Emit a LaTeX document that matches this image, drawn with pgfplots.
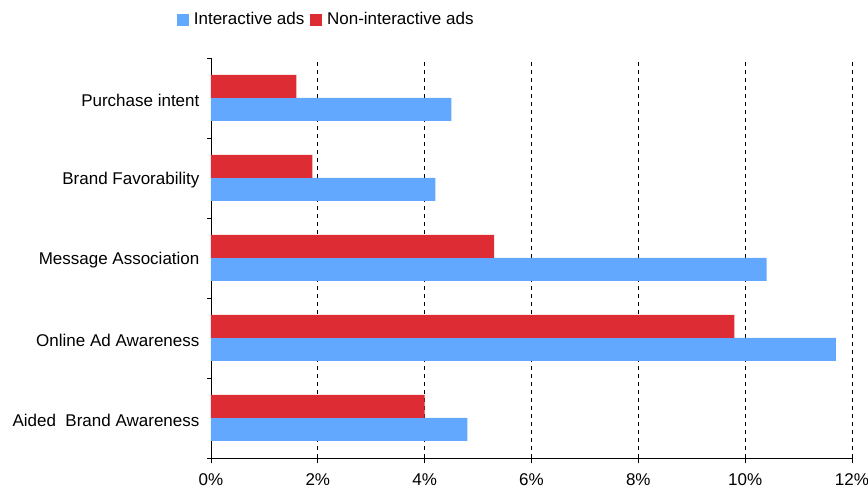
\documentclass[border=0pt]{standalone}
\usepackage{fontspec}
\setmainfont{Liberation Sans}
\usepackage{pgfplots}
\pgfplotsset{compat=1.18}
\definecolor{iblue}{HTML}{62A8FF}
\definecolor{nred}{HTML}{DE2C34}
\begin{document}
\fontsize{12.75}{15}\selectfont
\begin{tikzpicture}
\begin{axis}[
  name=ax,
  scale only axis,
  width=480.75pt, height=300pt,
  xmin=0, xmax=12,
  ymin=-0.5, ymax=4.5,
  axis lines*=left,
  axis line style={black, line width=0.6pt},
  xtick={0,2,...,12},
  xticklabels={0\%,2\%,4\%,6\%,8\%,10\%,12\%},
  ytick={0,1,2,3,4},
  yticklabels={Aided\ \ Brand Awareness,Online Ad Awareness,Message Association,Brand Favorability,Purchase intent},
  minor ytick={-0.5,0.5,...,4.5},
  xmajorgrids,
  major x grid style={black, dashed, line width=0.6pt, dash pattern=on 3pt off 3pt},
  major tick length=4pt,
  minor tick length=3pt,
  tick style={black, line width=0.6pt},
  xtick style={black, line width=0.6pt},
  tick align=outside,
  ytick style={draw=none},
  minor y tick style={draw=black, line width=0.6pt},
  yticklabel style={font=\fontsize{12.75}{15}\selectfont, inner sep=0pt, xshift=-4.5pt, yshift=-1.5pt},
  xticklabel style={font=\fontsize{12.75}{15}\selectfont, yshift=-3pt},
  xbar, bar width=17.25pt,
  legend style={at={(axis description cs:0.18,1.095)}, anchor=center, draw=none, font=\fontsize{12.75}{15}\selectfont, legend columns=2, column sep=2pt, inner sep=0pt},
  legend image code/.code={\fill[#1] (0pt,-4.5pt) rectangle (9pt,4.5pt);},
  clip=false,
]
\addplot[draw=none, fill=iblue, bar shift=-8.625pt] coordinates {(4.8,0) (11.7,1) (10.4,2) (4.2,3) (4.5,4)};
\addplot[draw=none, fill=nred, bar shift=8.625pt] coordinates {(4.0,0) (9.8,1) (5.3,2) (1.9,3) (1.6,4)};
\legend{Interactive ads, Non-interactive ads}
\end{axis}
\pgfresetboundingbox
\path[use as bounding box] ([xshift=-158.25pt, yshift=-22.5pt]ax.south west) rectangle ([xshift=12pt, yshift=43.5pt]ax.north east);
\end{tikzpicture}
\end{document}
